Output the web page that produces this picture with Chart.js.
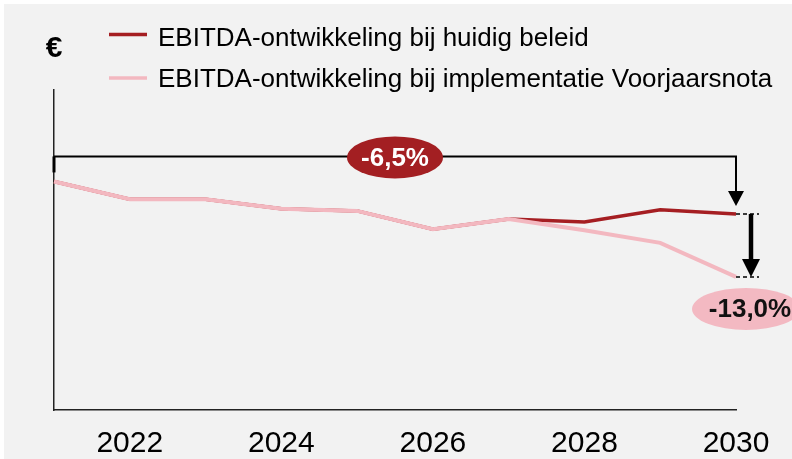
<!DOCTYPE html>
<html>
<head>
<meta charset="utf-8">
<script src="https://cdn.jsdelivr.net/npm/chart.js@4.4.1/dist/chart.umd.min.js"></script>
<style>
  html, body { margin: 0; padding: 0; background: #ffffff; }
  #wrap { position: absolute; left: 4px; top: 4px; width: 788px; height: 455px; background: #f2f2f2; }
</style>
</head>
<body>
<div id="wrap"><canvas id="myChart" width="788" height="455"></canvas></div>
<script>
// jaren en waarden (index)
var years = ['2021', '2022', '2023', '2024', '2025', '2026', '2027', '2028', '2029', '2030'];
var huidigBeleid = [100, 96.5, 96.5, 94.6, 94.2, 90.6, 92.6, 92.0, 94.4, 93.6];
var voorjaarsnota = [100, 96.5, 96.5, 94.6, 94.2, 90.6, 92.6, 90.4, 87.9, 81.2];
var seriesLabels = ['EBITDA-ontwikkeling bij huidig beleid', 'EBITDA-ontwikkeling bij implementatie Voorjaarsnota'];
var changeLabels = ['-6,5%', '-13,0%'];
var tickYears = ['2022', '2024', '2026', '2028', '2030'];

var FONT = '"Liberation Sans", Arial, sans-serif';
var darkRed = '#a51e22';
var pink = '#f3b8c0';

function arrowHead(ctx, x, tipY, baseY, half) {
    ctx.beginPath();
    ctx.moveTo(x - half, baseY);
    ctx.lineTo(x + half, baseY);
    ctx.lineTo(x, tipY);
    ctx.closePath();
    ctx.fill();
}

// annotaties: legenda, euroteken, pijlen en labels
var extras = {
    id: 'extras',
    afterDatasetsDraw: function(chart) {
        var ctx = chart.ctx;
        var xs = chart.scales.x, ys = chart.scales.y;
        var last = years.length - 1;
        var x0 = xs.getPixelForValue(0);
        var x1 = xs.getPixelForValue(last);
        var yStart = ys.getPixelForValue(huidigBeleid[0]);
        var yDark = ys.getPixelForValue(huidigBeleid[last]);
        var yPink = ys.getPixelForValue(voorjaarsnota[last]);
        var yBr = yStart - 25;

        ctx.save();
        ctx.strokeStyle = '#000';
        ctx.fillStyle = '#000';

        // bovenste haak
        ctx.lineWidth = 3;
        ctx.beginPath();
        ctx.moveTo(x0, yBr);
        ctx.lineTo(x0, yBr + 16);
        ctx.stroke();
        ctx.lineWidth = 2;
        ctx.beginPath();
        ctx.moveTo(x0, yBr);
        ctx.lineTo(x1, yBr);
        ctx.lineTo(x1, yDark - 20);
        ctx.stroke();
        arrowHead(ctx, x1, yDark - 8, yDark - 23, 8);

        // gestippelde streepjes
        ctx.lineWidth = 1.5;
        ctx.setLineDash([4, 3]);
        ctx.beginPath();
        ctx.moveTo(x1, yDark); ctx.lineTo(x1 + 23, yDark);
        ctx.moveTo(x1, yPink); ctx.lineTo(x1 + 23, yPink);
        ctx.stroke();
        ctx.setLineDash([]);

        // dikke pijl
        ctx.lineWidth = 4.5;
        ctx.beginPath();
        ctx.moveTo(x1 + 15, yDark);
        ctx.lineTo(x1 + 15, yPink - 15);
        ctx.stroke();
        arrowHead(ctx, x1 + 15, yPink, yPink - 18, 9);

        // labels
        ctx.textAlign = 'center';
        ctx.textBaseline = 'middle';
        ctx.font = 'bold 26px ' + FONT;
        ctx.fillStyle = '#a31f22';
        ctx.beginPath();
        ctx.ellipse((x0 + x1) / 2, yBr + 1, 48, 21, 0, 0, Math.PI * 2);
        ctx.fill();
        ctx.fillStyle = '#fff';
        ctx.fillText(changeLabels[0], (x0 + x1) / 2, yBr + 2);

        ctx.fillStyle = '#f3b9c2';
        ctx.beginPath();
        ctx.ellipse(x1 + 10, yPink + 32, 54, 21, 0, 0, Math.PI * 2);
        ctx.fill();
        ctx.fillStyle = '#111';
        ctx.fillText(changeLabels[1], x1 + 14, yPink + 33);

        // legenda
        var colors = [darkRed, pink];
        ctx.textAlign = 'left';
        ctx.textBaseline = 'alphabetic';
        ctx.font = '26px ' + FONT;
        for (var i = 0; i < seriesLabels.length; i++) {
            var ly = 30.5 + i * 43.5;
            ctx.strokeStyle = colors[i];
            ctx.lineWidth = 3.5;
            ctx.beginPath();
            ctx.moveTo(105, ly);
            ctx.lineTo(143, ly);
            ctx.stroke();
            ctx.fillStyle = '#000';
            ctx.fillText(seriesLabels[i], 154, 42 + i * 41);
        }

        // euroteken
        ctx.textAlign = 'center';
        ctx.font = 'bold 30px ' + FONT;
        ctx.fillText('€', 50, 53);
        ctx.restore();
    }
};

var ctx = document.getElementById('myChart').getContext('2d');
var myChart = new Chart(ctx, {
    type: 'line',
    data: {
        labels: years,
        datasets: [{
            label: seriesLabels[1],
            data: voorjaarsnota,
            borderColor: pink,
            borderWidth: 4,
            pointRadius: 0,
            tension: 0,
            order: 0
        }, {
            label: seriesLabels[0],
            data: huidigBeleid,
            borderColor: darkRed,
            borderWidth: 3.5,
            pointRadius: 0,
            tension: 0,
            order: 1
        }]
    },
    options: {
        responsive: false,
        animation: false,
        layout: { padding: { left: 50, top: 86, right: 56, bottom: 0 } },
        plugins: { legend: { display: false }, tooltip: { enabled: false } },
        scales: {
            x: {
                offset: false,
                grid: { display: false, drawTicks: false },
                border: { display: true, color: '#222', width: 1.5 },
                afterFit: function(scale) { scale.height = 49; },
                ticks: {
                    autoSkip: false,
                    maxRotation: 0,
                    padding: 16,
                    color: '#000',
                    font: { family: FONT, size: 30 },
                    callback: function(value) {
                        var y = years[value];
                        return tickYears.indexOf(y) >= 0 ? y : '';
                    }
                }
            },
            y: {
                min: 55,
                max: 118,
                grid: { display: false, drawTicks: false },
                border: { display: true, color: '#222', width: 1.5 },
                ticks: { display: false },
                afterFit: function(scale) { scale.width = 0; }
            }
        }
    },
    plugins: [extras]
});
</script>
</body>
</html>
